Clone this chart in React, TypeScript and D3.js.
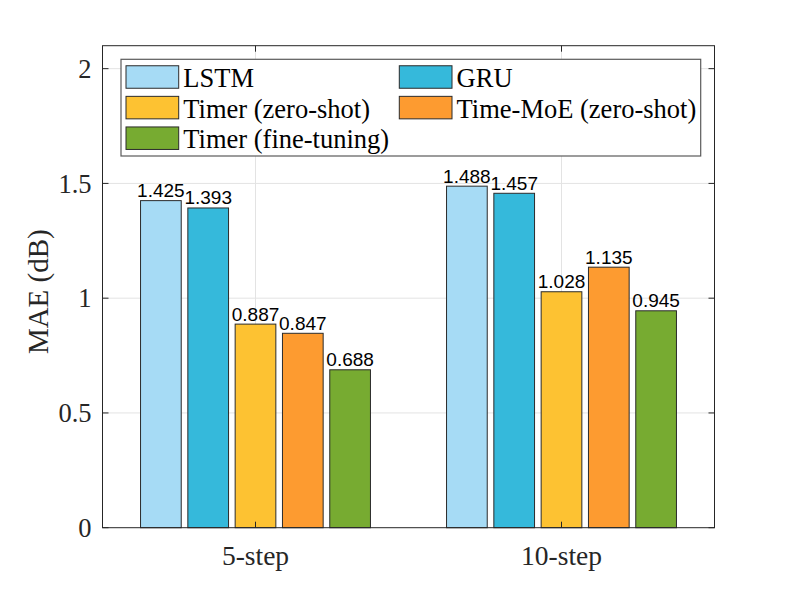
import React from 'react';
import * as d3 from 'd3';

const categories = ['5-step', '10-step'];
const seriesNames = [
  'LSTM',
  'GRU',
  'Timer (zero-shot)',
  'Time-MoE (zero-shot)',
  'Timer (fine-tuning)',
];
const seriesColors = ['#a6dbf5', '#35b9db', '#fdc232', '#fd9b30', '#77ab31'];
// values[series][category]
const values = [
  [1.425, 1.488],
  [1.393, 1.457],
  [0.887, 1.028],
  [0.847, 1.135],
  [0.688, 0.945],
];
const yTicks = [0, 0.5, 1, 1.5, 2];
const yTickLabels = ['0', '0.5', '1', '1.5', '2'];

const W = 789;
const H = 593;
const margin = { top: 45.7, right: 74.5, bottom: 65.3, left: 102.5 };
const serif = '"Liberation Serif", "Times New Roman", serif';
const sans = '"Liberation Sans", Arial, sans-serif';
const axisColor = '#262626';

export default function App() {
  const x = d3
    .scaleLinear()
    .domain([0.5, categories.length + 0.5])
    .range([margin.left, W - margin.right]);
  const y = d3
    .scaleLinear()
    .domain([0, 2.1])
    .range([H - margin.bottom, margin.top]);

  const slot = 0.1546;
  const barW = 0.133;
  const offset = (i: number) => (i - (seriesNames.length - 1) / 2) * slot;

  const left = x.range()[0];
  const right = x.range()[1];
  const top = y.range()[1];
  const bottom = y.range()[0];
  const tickLen = 6;

  // legend layout
  const lg = { x: 121, y: 59.3, w: 579.7, h: 96.7 };
  const colX = [126, 399.3];
  const rowY = [77, 107.6, 138.2];
  const sw = { w: 52.7, h: 22.5 };

  return (
    <svg
      width={W}
      height={H}
      style={{ position: 'absolute', left: 0, top: 0, background: '#fff' }}
    >
      {/* grid */}
      <g stroke="#e3e3e3" strokeWidth={1}>
        {yTicks.slice(1).map(t => (
          <line key={t} x1={left} x2={right} y1={y(t)} y2={y(t)} />
        ))}
        {categories.map((c, i) => (
          <line key={c} x1={x(i + 1)} x2={x(i + 1)} y1={top} y2={bottom} />
        ))}
      </g>

      {/* bars */}
      {values.map((row, s) =>
        row.map((v, c) => (
          <rect
            key={`${s}-${c}`}
            x={x(c + 1 + offset(s) - barW / 2)}
            width={x(barW) - x(0)}
            y={y(v)}
            height={y(0) - y(v)}
            fill={seriesColors[s]}
            stroke="#2b2b2b"
            strokeWidth={1}
          />
        ))
      )}

      {/* value labels */}
      {values.map((row, s) =>
        row.map((v, c) => (
          <text
            key={`l${s}-${c}`}
            x={x(c + 1 + offset(s))}
            y={y(v) - 3.5}
            textAnchor="middle"
            fontFamily={sans}
            fontSize={19}
            fill="#000"
          >
            {d3.format('.3f')(v)}
          </text>
        ))
      )}

      {/* axes box & ticks */}
      <g stroke={axisColor} strokeWidth={1} fill="none">
        <rect x={left} y={top} width={right - left} height={bottom - top} />
        {yTicks.map(t => (
          <g key={t}>
            <line x1={left} x2={left + tickLen} y1={y(t)} y2={y(t)} />
            <line x1={right} x2={right - tickLen} y1={y(t)} y2={y(t)} />
          </g>
        ))}
        {categories.map((c, i) => (
          <g key={c}>
            <line x1={x(i + 1)} x2={x(i + 1)} y1={bottom} y2={bottom - tickLen} />
            <line x1={x(i + 1)} x2={x(i + 1)} y1={top} y2={top + tickLen} />
          </g>
        ))}
      </g>

      {/* y tick labels */}
      {yTicks.map((t, i) => (
        <text
          key={t}
          x={left - 11}
          y={y(t)}
          dy="0.35em"
          textAnchor="end"
          fontFamily={serif}
          fontSize={26.5}
          fill={axisColor}
        >
          {yTickLabels[i]}
        </text>
      ))}

      {/* x tick labels */}
      {categories.map((c, i) => (
        <text
          key={c}
          x={x(i + 1)}
          y={564.5}
          textAnchor="middle"
          fontFamily={serif}
          fontSize={27.5}
          fill={axisColor}
        >
          {c}
        </text>
      ))}

      {/* y axis label */}
      <text
        transform={`translate(48, ${(top + bottom) / 2 + 5}) rotate(-90)`}
        textAnchor="middle"
        fontFamily={serif}
        fontSize={29}
        fill={axisColor}
      >
        MAE (dB)
      </text>

      {/* legend */}
      <rect
        x={lg.x}
        y={lg.y}
        width={lg.w}
        height={lg.h}
        fill="#fff"
        stroke="#5a5a5a"
        strokeWidth={1.2}
      />
      {seriesNames.map((name, i) => {
        const cx = colX[i % 2];
        const cy = rowY[Math.floor(i / 2)];
        return (
          <g key={name}>
            <rect
              x={cx}
              y={cy - sw.h / 2}
              width={sw.w}
              height={sw.h}
              fill={seriesColors[i]}
              stroke="#2b2b2b"
              strokeWidth={1}
            />
            <text
              x={cx + sw.w + 4.6}
              y={cy + 10}
              fontFamily={serif}
              fontSize={26.5}
              fill="#000"
            >
              {name}
            </text>
          </g>
        );
      })}
    </svg>
  );
}
